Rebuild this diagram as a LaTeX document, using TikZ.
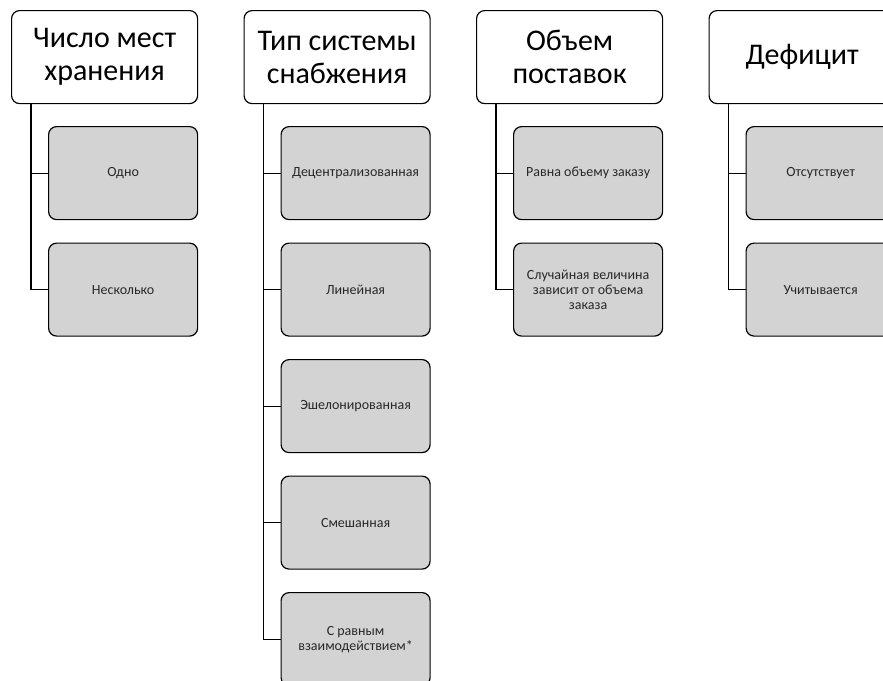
\documentclass[tikz,border=0pt]{standalone}
\usepackage{fontspec}
\setmainfont{Carlito}
\begin{document}
\begin{tikzpicture}[x=1pt,y=-1pt,
  hdr/.style={draw=black, line width=1.2pt, fill=white, rounded corners=8pt,
    minimum width=186pt, minimum height=93pt, inner sep=0pt, align=center,
    font=\fontsize{30}{33}\selectfont, anchor=north west},
  chld/.style={draw=black, line width=1.2pt, fill=childgray, rounded corners=8pt,
    minimum width=149pt, minimum height=93pt, inner sep=0pt, align=center,
    font=\fontsize{14}{15}\selectfont, text=textgray, anchor=north west},
  conn/.style={draw=black, line width=1.2pt}]
\definecolor{childgray}{RGB}{211,211,211}
\definecolor{textgray}{RGB}{40,40,40}
\useasboundingbox (0,0) rectangle (883,680);
\clip (0,0) rectangle (883,680);
% column 1
\node[hdr] (h1) at (11,10) {Число мест\\хранения};
\coordinate (t1) at (31,103);
\node[chld] (c11) at (48,126) {Одно};
\node[chld] (c12) at (48,242.5) {Несколько};
% column 2
\node[hdr] (h2) at (243.5,10) {Тип системы\\снабжения};
\coordinate (t2) at (263.5,103);
\node[chld] (c21) at (280.5,126) {Децентрализованная};
\node[chld] (c22) at (280.5,242.5) {Линейная};
\node[chld] (c23) at (280.5,359) {Эшелонированная};
\node[chld] (c24) at (280.5,475.5) {Смешанная};
\node[chld] (c25) at (280.5,592) {С равным\\взаимодействием*};
% column 3
\node[hdr] (h3) at (476,10) {Объем\\поставок};
\coordinate (t3) at (496,103);
\node[chld] (c31) at (513,126) {Равна объему заказу};
\node[chld] (c32) at (513,242.5) {Случайная величина\\зависит от объема\\заказа};
% column 4
\node[hdr] (h4) at (708.5,10) {Дефицит};
\coordinate (t4) at (728.5,103);
\node[chld] (c41) at (745.5,126) {Отсутствует};
\node[chld] (c42) at (745.5,242.5) {Учитывается};
% connectors
\foreach \t/\c in {t1/c11,t1/c12,t2/c21,t2/c22,t2/c23,t2/c24,t2/c25,t3/c31,t3/c32,t4/c41,t4/c42}
  \draw[conn] (\t) |- (\c.west);
\end{tikzpicture}
\end{document}
